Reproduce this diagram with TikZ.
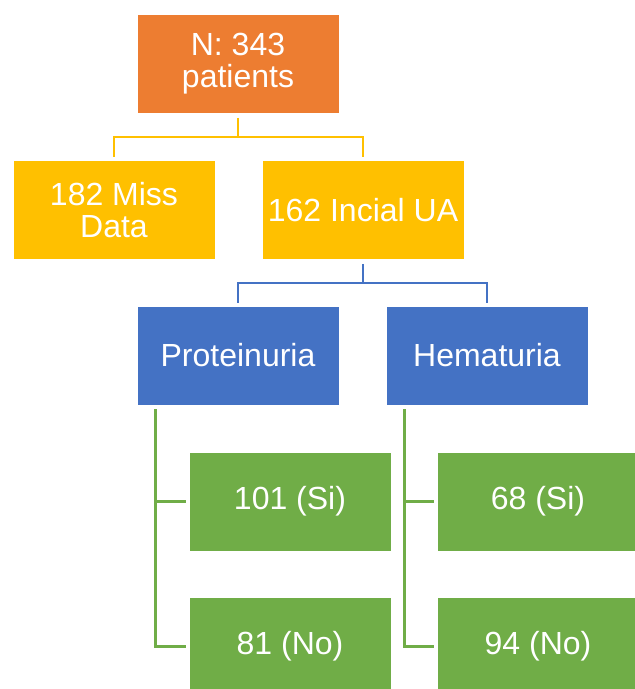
\documentclass[tikz,border=0pt]{standalone}
\usepackage{fontspec}
\setmainfont{Liberation Sans}
\usepackage{tikz}
\usetikzlibrary{positioning}
\definecolor{boxorange}{HTML}{ED7D31}
\definecolor{boxyellow}{HTML}{FFC000}
\definecolor{boxblue}{HTML}{4472C4}
\definecolor{boxgreen}{HTML}{70AD47}
\tikzstyle{box}=[rectangle, draw=white, line width=0.6pt, minimum width=202pt, minimum height=99pt, inner sep=0pt, align=center, text=white, font=\fontsize{32}{32}\selectfont]
\tikzstyle{link}=[line width=2.8pt, shorten <=4pt, shorten >=3pt]
\tikzset{every picture/.style={
    x=1pt, y=-1pt
  }
}

\begin{document}
\begin{tikzpicture}
        \useasboundingbox (0,0) rectangle (635,689);
        \clip (0,0) rectangle (635,689);
        \node[box, fill=boxorange] at (238,64) (total) {N: 343\\patients};
        \node[box, fill=boxyellow] at (114,210) (miss) {182 Miss\\Data};
        \node[box, fill=boxyellow] at (363,210) (incial) {162 Incial UA};
        \node[box, fill=boxblue] at (238,355.5) (prot) {Proteinuria};
        \node[box, fill=boxblue] at (487,355.5) (hema) {Hematuria};
        \node[box, fill=boxgreen] at (290,501.5) (protsi) {101 (Si)};
        \node[box, fill=boxgreen] at (290,646.5) (protno) {81 (No)};
        \node[box, fill=boxgreen] at (538,501.5) (hemasi) {68 (Si)};
        \node[box, fill=boxgreen] at (538,646.5) (hemano) {94 (No)};
        \coordinate (split1) at (238,137);
        \coordinate (split2) at (363,283);
        \draw[link, boxyellow, shorten >=0pt] (total.south) -- (split1);
        \draw[link, boxyellow, shorten <=0pt] (split1) -| (miss.north);
        \draw[link, boxyellow, shorten <=0pt] (split1) -| (incial.north);
        \draw[link, boxblue, shorten >=0pt] (incial.south) -- (split2);
        \draw[link, boxblue, shorten <=0pt] (split2) -| (prot.north);
        \draw[link, boxblue, shorten <=0pt] (split2) -| (hema.north);
        \draw[link, boxgreen] ([xshift=19pt]prot.south west) |- (protsi.west);
        \draw[link, boxgreen] ([xshift=19pt]prot.south west) |- (protno.west);
        \draw[link, boxgreen] ([xshift=19pt]hema.south west) |- (hemasi.west);
        \draw[link, boxgreen] ([xshift=19pt]hema.south west) |- (hemano.west);
      \end{tikzpicture}
\end{document}
